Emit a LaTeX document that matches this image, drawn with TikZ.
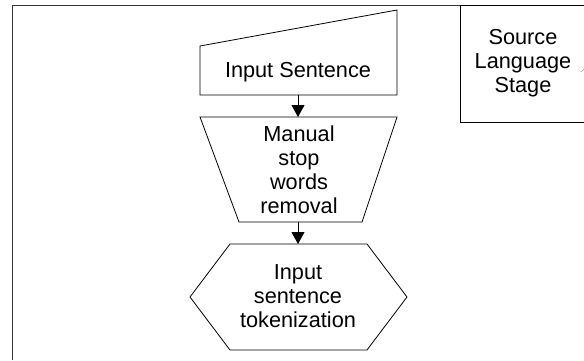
\documentclass[tikz,border=0pt]{standalone}
\usepackage{fontspec}
\setmainfont{Liberation Sans}
\usetikzlibrary{arrows.meta}
\begin{document}
\begin{tikzpicture}[x=1pt,y=-1pt,
  shp/.style={draw=black,line width=0.8pt},
  frm/.style={draw=black!80,line width=1pt},
  lbl/.style={font=\fontsize{21.7}{24}\selectfont, align=center, inner sep=0pt},
  arr/.style={draw=black,line width=0.8pt,-{Triangle[length=12pt,width=13pt]}}]
\useasboundingbox (0,0) rectangle (584,360);
% outer frame
\draw[frm] (12,360) -- (12,5) -- (584,5);
% source language stage box
\draw[shp] (586,5) -- (460,5) -- (460,122) -- (586,122);
\node[lbl] (stage) at (523,63) {Source\\Language\\Stage};
\draw[black!40,line width=0.5pt] (581,72) -- (584,69);
% manual input shape
\coordinate (inB) at (298,95);
\draw[shp] (200,46) -- (397,10) -- (397,95) -- (200,95) -- cycle;
\node[lbl] (input) at (298,72) {Input Sentence};
% trapezoid
\coordinate (trT) at (298,117);
\coordinate (trB) at (298,222);
\draw[shp] (200,117) -- (397,117) -- (362,222) -- (239,222) -- cycle;
\node[lbl] (stop) at (299,170) {Manual\\stop\\words\\removal};
% hexagon
\coordinate (hxT) at (298,244);
\draw[shp] (230,244) -- (367,244) -- (407,297) -- (367,350) -- (230,350) -- (190,297) -- cycle;
\node[lbl] (tok) at (298,296) {Input\\sentence\\tokenization};
% arrows
\draw[arr] (inB) -- (trT);
\draw[arr] (trB) -- (hxT);
\end{tikzpicture}
\end{document}
